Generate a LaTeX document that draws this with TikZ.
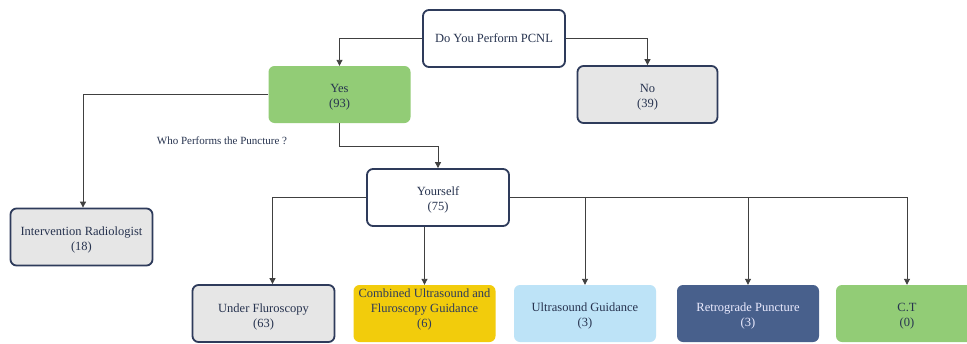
\documentclass[tikz,border=0pt]{standalone}
\usepackage{fontspec}
\setmainfont{Liberation Serif}
\usetikzlibrary{arrows.meta}
\definecolor{navy}{HTML}{2E3B5B}
\definecolor{txt}{HTML}{27334F}
\definecolor{grayfill}{HTML}{E6E6E6}
\definecolor{greenfill}{HTML}{92CC76}
\definecolor{goldfill}{HTML}{F2CC0C}
\definecolor{bluefill}{HTML}{BDE3F7}
\definecolor{steelfill}{HTML}{48608C}
\definecolor{linec}{HTML}{404040}
\tikzset{
  box/.style={rounded corners=6pt, minimum width=142pt, minimum height=57pt, inner sep=0pt},
  navybox/.style={box, draw=navy, line width=1.8pt},
  plainbox/.style={box, draw=none},
  lt/.style={align=center, text=txt, font=\fontsize{12.5}{15}\selectfont, inner sep=0pt},
  arr/.style={draw=linec, line width=0.9pt, -{Triangle[width=6pt,length=6pt]}},
}
\begin{document}
\begin{tikzpicture}[x=1pt,y=-1pt]
\clip (0,0) rectangle (967,343);
\fill[white] (0,0) rectangle (967,343);
\node[navybox, fill=white, label={[lt]center:Do You Perform PCNL}] (top) at (494,38.5) {};
\node[plainbox, fill=greenfill, label={[lt,yshift=-3pt]center:{Yes\\(93)}}] (yes) at (339.5,94.5) {};
\node[navybox, fill=grayfill, minimum width=140pt, label={[lt,yshift=-3pt]center:{No\\(39)}}] (no) at (647.5,94.5) {};
\node[navybox, fill=grayfill, label={[lt,yshift=-3pt]center:{Intervention Radiologist\\(18)}}] (ir) at (81.5,237) {};
\node[navybox, fill=white, label={[lt,yshift=-2pt]center:{Yourself\\(75)}}] (you) at (438,197.5) {};
\node[font=\fontsize{11}{13}\selectfont, text=txt] (lbl) at (222,141) {Who Performs the Puncture ?};
\node[navybox, fill=grayfill, label={[lt,yshift=-3pt]center:{Under Fluroscopy\\(63)}}] (uf) at (263.5,313.5) {};
\node[plainbox, fill=goldfill, label={[lt,text=navy,yshift=4pt]center:{Combined Ultrasound and\\Fluroscopy Guidance\\(6)}}] (comb) at (424.5,313.5) {};
\node[plainbox, fill=bluefill, label={[lt,yshift=-2.5pt]center:{Ultrasound Guidance\\(3)}}] (us) at (585,313.5) {};
\node[plainbox, fill=steelfill, label={[lt,text=white!92!blue,yshift=-2.5pt]center:{Retrograde Puncture\\(3)}}] (rp) at (748,313.5) {};
\node[plainbox, fill=greenfill, label={[lt,yshift=-2.5pt]center:{C.T\\(0)}}] (ct) at (907,313.5) {};
\draw[arr] (top.west) -| (yes.north);
\draw[arr] (top.east) -| (no.north);
\draw[arr] (yes.west) -| ([xshift=1.5pt]ir.north);
\draw[arr] (yes.south) -- ++(0,23) -| (you.north);
\draw[arr] (you.west) -| ([xshift=9pt]uf.north);
\draw[arr] (you.south -| comb.north) -- (comb.north);
\draw[arr] (you.east) -| (ct.north);
\draw[arr] (you.east -| us.north) -- (us.north);
\draw[arr] (you.east -| rp.north) -- (rp.north);
\end{tikzpicture}
\end{document}
